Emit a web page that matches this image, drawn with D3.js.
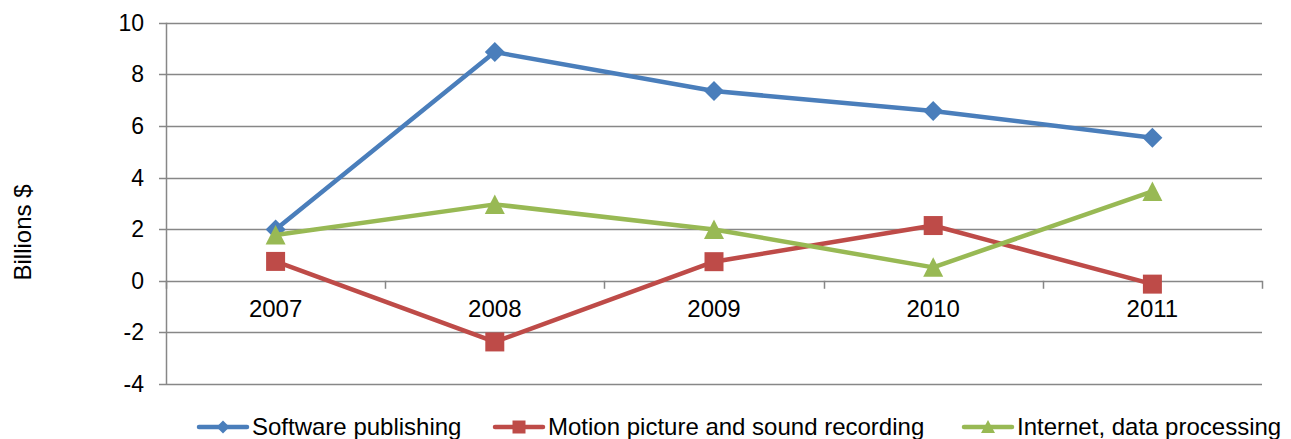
<!DOCTYPE html>
<html>
<head>
<meta charset="utf-8">
<script src="https://cdn.jsdelivr.net/npm/d3@7"></script>
<style>
  body { margin: 0; background: #fff; }
  text { font-family: 'Liberation Sans', Arial, sans-serif; fill: #000; }
</style>
</head>
<body>
<svg id="chart" width="1291" height="439"></svg>
<script>
'use strict'

// chart data
var years = ['2007', '2008', '2009', '2010', '2011']
var software = [1.99, 8.86, 7.35, 6.58, 5.54]
var motion = [0.75, -2.37, 0.74, 2.14, -0.13]
var internet = [1.77, 2.96, 1.99, 0.52, 3.46]
var yTicks = [-4, -2, 0, 2, 4, 6, 8, 10]

var series = [
  { name: 'Software publishing', values: software, color: '#4a7ebb', marker: 'diamond' },
  { name: 'Motion picture and sound recording', values: motion, color: '#be4b48', marker: 'square' },
  { name: 'Internet, data processing', values: internet, color: '#98b954', marker: 'triangle' }
]

var svg = d3.select('#chart')
var plotLeft = 166
var plotRight = 1262
var plotTop = 22.7
var plotBottom = 384
var fontSize = '24px'

var x = d3.scaleBand().domain(years).range([plotLeft, plotRight])
var y = d3.scaleLinear().domain([-4, 10]).range([plotBottom, plotTop])

// gridlines + y tick labels
var grid = svg.append('g')
grid.selectAll('line')
  .data(yTicks)
  .enter().append('line')
    .attr('x1', plotLeft - 7)
    .attr('x2', plotRight)
    .attr('y1', (d) => Math.round(y(d)) + 0.5)
    .attr('y2', (d) => Math.round(y(d)) + 0.5)
    .attr('stroke', '#878787')
    .attr('stroke-width', 1.5)

grid.selectAll('text')
  .data(yTicks)
  .enter().append('text')
    .attr('x', 144)
    .attr('y', (d) => y(d))
    .attr('dy', '0.35em')
    .attr('text-anchor', 'end')
    .style('font-size', '23px')
    .text((d) => d)

// vertical axis
svg.append('line')
  .attr('x1', plotLeft + 0.5).attr('x2', plotLeft + 0.5)
  .attr('y1', plotTop).attr('y2', plotBottom)
  .attr('stroke', '#878787')
  .attr('stroke-width', 1.5)

// category ticks on the zero line
var boundaries = years.map((d) => x(d)).concat([plotRight])
svg.append('g').selectAll('line')
  .data(boundaries)
  .enter().append('line')
    .attr('x1', (d) => Math.round(d) + 0.5)
    .attr('x2', (d) => Math.round(d) + 0.5)
    .attr('y1', y(0))
    .attr('y2', y(0) + 8)
    .attr('stroke', '#878787')
    .attr('stroke-width', 1.5)

svg.append('g').selectAll('text')
  .data(years)
  .enter().append('text')
    .attr('x', (d) => x(d) + x.bandwidth() / 2)
    .attr('y', y(0) + 36.5)
    .attr('text-anchor', 'middle')
    .style('font-size', fontSize)
    .text((d) => d)

// y axis title
svg.append('text')
  .attr('transform', 'translate(31,232.5) rotate(-90)')
  .attr('text-anchor', 'middle')
  .style('font-size', fontSize)
  .text('Billions $')

function markerPath (type) {
  if (type === 'diamond') return 'M0,-10L10,0L0,10L-10,0Z'
  if (type === 'square') return 'M-9.5,-9.5H9.5V9.5H-9.5Z'
  return 'M0,-10L10,9.5H-10Z'
}

var line = d3.line()
  .x((d, i) => x(years[i]) + x.bandwidth() / 2)
  .y((d) => y(d))

series.forEach(function (s) {
  var g = svg.append('g')
  g.append('path')
    .datum(s.values)
    .attr('d', line)
    .attr('fill', 'none')
    .attr('stroke', s.color)
    .attr('stroke-width', 4.5)
    .attr('stroke-linejoin', 'round')
    .attr('stroke-linecap', 'round')

  g.selectAll('path.m')
    .data(s.values)
    .enter().append('path')
      .attr('class', 'm')
      .attr('transform', (d, i) => 'translate(' + (x(years[i]) + x.bandwidth() / 2) + ',' + y(d) + ')')
      .attr('d', markerPath(s.marker))
      .attr('fill', s.color)
})

// legend
var legendX = [197, 493, 962]
var legendY = 427
series.forEach(function (s, i) {
  var g = svg.append('g').attr('transform', 'translate(' + legendX[i] + ',' + legendY + ')')
  g.append('line')
    .attr('x1', 2).attr('x2', 50)
    .attr('stroke', s.color)
    .attr('stroke-width', 4.5)
    .attr('stroke-linecap', 'round')
  var m = s.marker === 'diamond' ? 'M0,-6.5L6.5,0L0,6.5L-6.5,0Z'
    : s.marker === 'square' ? 'M-6.5,-6.5H6.5V6.5H-6.5Z' : 'M0,-7L7,6H-7Z'
  g.append('path')
    .attr('transform', 'translate(26,0)')
    .attr('d', m)
    .attr('fill', s.color)
  g.append('text')
    .attr('x', 55)
    .attr('dy', '0.35em')
    .style('font-size', fontSize)
    .text(s.name)
})
</script>
</body>
</html>
